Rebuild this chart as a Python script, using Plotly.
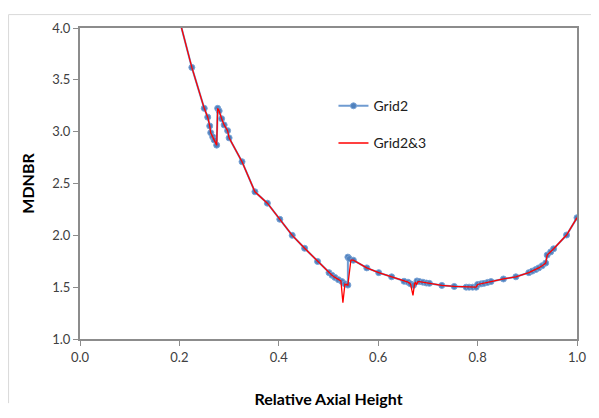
import plotly.graph_objects as go

# Grid2 series (blue, with markers)
grid2_x = [0.200, 0.225, 0.250, 0.257, 0.261, 0.263, 0.267, 0.270, 0.275,
           0.277, 0.280, 0.285, 0.290, 0.297, 0.300, 0.326, 0.352, 0.377,
           0.402, 0.427, 0.452, 0.478, 0.501, 0.507, 0.513, 0.520, 0.527,
           0.533, 0.539, 0.539, 0.542, 0.550, 0.577, 0.601, 0.627, 0.652,
           0.660, 0.665, 0.671, 0.678, 0.683, 0.690, 0.697, 0.703, 0.728,
           0.753, 0.777, 0.783, 0.790, 0.797, 0.800, 0.807, 0.813, 0.820,
           0.827, 0.852, 0.877, 0.903, 0.910, 0.917, 0.923, 0.930, 0.937,
           0.940, 0.947, 0.953, 0.979, 1.000]
grid2_y = [4.08, 3.62, 3.225, 3.14, 3.055, 2.99, 2.95, 2.92, 2.87,
           3.225, 3.20, 3.125, 3.065, 3.01, 2.94, 2.71, 2.42, 2.31,
           2.155, 2.00, 1.875, 1.748, 1.64, 1.615, 1.594, 1.572, 1.554,
           1.532, 1.52, 1.79, 1.775, 1.76, 1.686, 1.64, 1.60, 1.557,
           1.548, 1.532, 1.518, 1.56, 1.554, 1.548, 1.54, 1.537, 1.517,
           1.507, 1.50, 1.50, 1.50, 1.50, 1.526, 1.532, 1.537, 1.546,
           1.554, 1.579, 1.60, 1.64, 1.655, 1.67, 1.686, 1.707, 1.732,
           1.81, 1.84, 1.87, 2.003, 2.17]

# Grid2&3 series (red line)
grid23_x = [0.200, 0.225, 0.250, 0.257, 0.261, 0.263, 0.267, 0.270, 0.275,
            0.277, 0.280, 0.285, 0.290, 0.297, 0.300, 0.326, 0.352, 0.377,
            0.402, 0.427, 0.452, 0.478, 0.501, 0.507, 0.513, 0.520, 0.525,
            0.529, 0.533, 0.539, 0.545, 0.550, 0.577, 0.601, 0.627, 0.652,
            0.660, 0.665, 0.670, 0.673, 0.675, 0.677, 0.680, 0.683, 0.690,
            0.697, 0.703, 0.728, 0.753, 0.777, 0.783, 0.790, 0.797, 0.800,
            0.807, 0.813, 0.820, 0.827, 0.852, 0.877, 0.903, 0.910, 0.917,
            0.923, 0.930, 0.937, 0.940, 0.947, 0.953, 0.979, 1.000]
grid23_y = [4.08, 3.62, 3.225, 3.14, 3.055, 2.99, 2.95, 2.92, 2.87,
            3.225, 3.20, 3.125, 3.065, 3.01, 2.94, 2.71, 2.42, 2.31,
            2.155, 2.00, 1.875, 1.748, 1.64, 1.615, 1.594, 1.572, 1.56,
            1.35, 1.53, 1.52, 1.76, 1.76, 1.686, 1.64, 1.60, 1.557,
            1.548, 1.532, 1.42, 1.53, 1.55, 1.52, 1.553, 1.554, 1.548,
            1.54, 1.537, 1.517, 1.507, 1.50, 1.50, 1.50, 1.50, 1.526,
            1.532, 1.537, 1.546, 1.554, 1.579, 1.60, 1.64, 1.655, 1.67,
            1.686, 1.707, 1.732, 1.81, 1.84, 1.87, 2.003, 2.17]

x_ticks = [0.0, 0.2, 0.4, 0.6, 0.8, 1.0]
x_tick_labels = ["0.0", "0.2", "0.4", "0.6", "0.8", "1.0"]
y_ticks = [1.0, 1.5, 2.0, 2.5, 3.0, 3.5, 4.0]
y_tick_labels = ["1.0", "1.5", "2.0", "2.5", "3.0", "3.5", "4.0"]

FONT = "Lato, 'Open Sans', sans-serif"
AXIS_COLOR = "#8c8c8c"
TEXT_COLOR = "#404040"

W, H = 591, 410
ML, MR, MT, MB = 72, 18, 18, 67
PW, PH = W - ML - MR, H - MT - MB

fig = go.Figure()
fig.add_trace(go.Scatter(
    x=grid2_x, y=grid2_y, name="Grid2", mode="lines+markers",
    line=dict(color="#6f9bd1", width=2),
    marker=dict(color="#4f81bd", size=6, line=dict(color="#7aa3d6", width=1)),
    legendgroup="a",
))
fig.add_trace(go.Scatter(
    x=grid23_x, y=grid23_y, name="Grid2&3", mode="lines",
    line=dict(color="#ff0000", width=1.3),
    legendgroup="b",
))

fig.update_layout(
    width=W, height=H,
    margin=dict(l=ML, r=MR, t=MT, b=MB),
    paper_bgcolor="white", plot_bgcolor="white",
    font=dict(family=FONT, size=13, color=TEXT_COLOR),
    showlegend=True,
    legend=dict(x=0.51, y=0.80, xanchor="left", yanchor="top",
                bgcolor="rgba(0,0,0,0)", font=dict(size=14, color="#202020"),
                tracegroupgap=16, itemwidth=30),
    xaxis=dict(range=[0, 1], tickvals=x_ticks, ticktext=x_tick_labels,
               showgrid=False, zeroline=False, showline=True,
               linecolor=AXIS_COLOR, linewidth=2, mirror=True,
               ticks="outside", ticklen=5, tickcolor=AXIS_COLOR, tickwidth=1,
               tickfont=dict(size=13, color=TEXT_COLOR),
               title=dict(text="<b>Relative Axial Height</b>",
                          font=dict(size=16, color="#000000"), standoff=30)),
    yaxis=dict(range=[1, 4], tickvals=y_ticks, ticktext=y_tick_labels,
               showgrid=False, zeroline=False, showline=True,
               linecolor=AXIS_COLOR, linewidth=2, mirror=True,
               ticks="outside", ticklen=5, tickcolor=AXIS_COLOR, tickwidth=1,
               tickfont=dict(size=13, color=TEXT_COLOR),
               title=dict(text="<b>MDNBR</b>",
                          font=dict(size=16, color="#000000"), standoff=14)),
)

# light outer chart border (left and top edges visible in the reference)
fig.add_shape(type="line", xref="paper", yref="paper",
              x0=-72 / PW, x1=-72 / PW, y0=-MB / PH, y1=(PH + 14) / PH,
              line=dict(color="#d9d9d9", width=1))
fig.add_shape(type="line", xref="paper", yref="paper",
              x0=-72 / PW, x1=(PW + MR) / PW, y0=(PH + 14) / PH, y1=(PH + 14) / PH,
              line=dict(color="#d9d9d9", width=1))

fig.write_html("out.html")
